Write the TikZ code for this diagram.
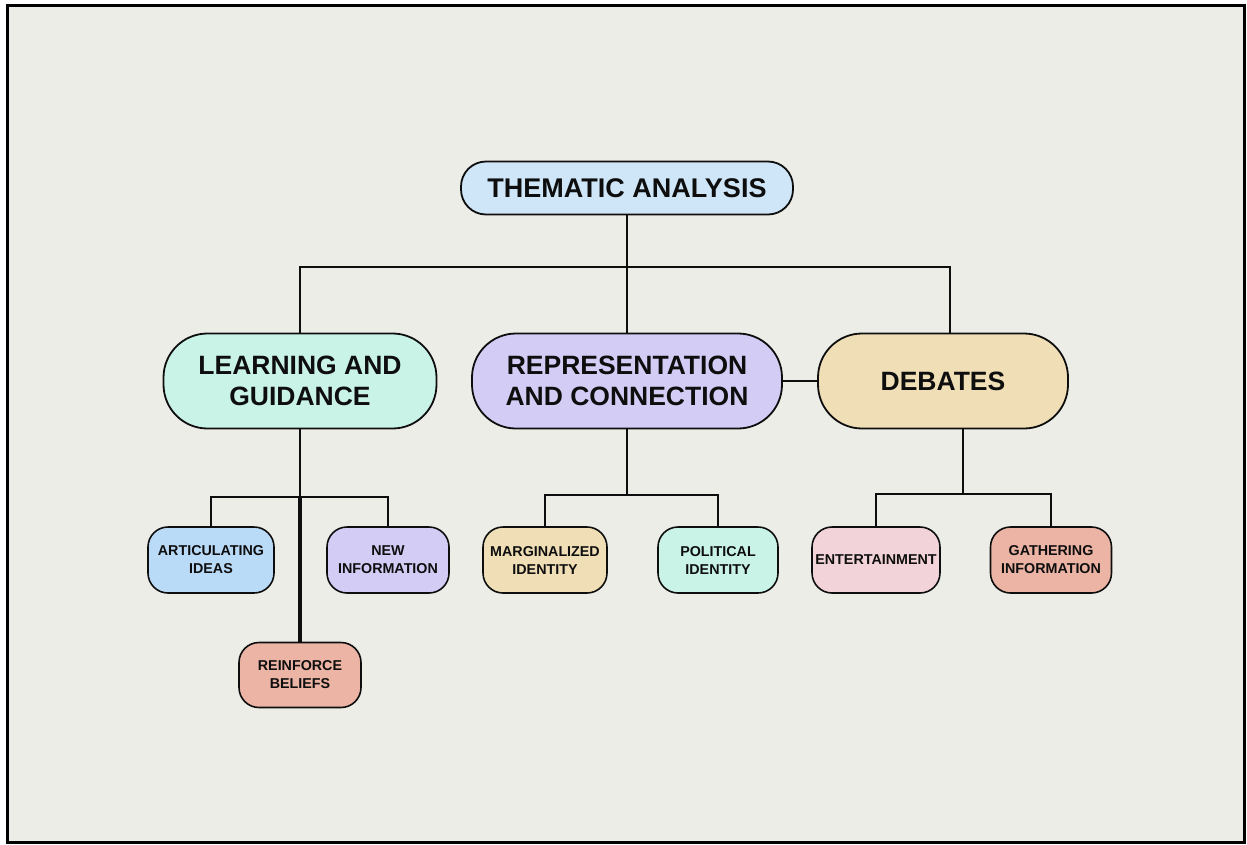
\documentclass[tikz,border=0pt]{standalone}
\usepackage{fontspec}
\setmainfont{Liberation Sans}
\usepackage{xcolor}
\usetikzlibrary{positioning, calc}
\definecolor{paperbg}{RGB}{237, 237, 232}
\definecolor{inkblack}{RGB}{14, 14, 14}
\definecolor{skyblue}{RGB}{206, 230, 248}
\definecolor{paleblue}{RGB}{186, 219, 248}
\definecolor{mintgreen}{RGB}{202, 243, 232}
\definecolor{lavender}{RGB}{211, 205, 246}
\definecolor{wheat}{RGB}{240, 222, 183}
\definecolor{salmon}{RGB}{236, 180, 164}
\definecolor{blush}{RGB}{242, 211, 217}

\begin{document}
\begin{tikzpicture}[
    x=1pt, y=-1pt,
    every node/.style={align=center, text=inkblack},
    rootbox/.style={draw=inkblack, line width=1.8pt, rounded corners=25pt, minimum height=53pt, minimum width=332pt, font=\fontsize{27}{32}\selectfont\bfseries},
    mainbox/.style={draw=inkblack, line width=1.8pt, rounded corners=44pt, minimum height=95pt, font=\fontsize{26.5}{31.5}\selectfont\bfseries},
    subbox/.style={draw=inkblack, line width=1.6pt, rounded corners=20pt, minimum height=66pt, minimum width=123pt, font=\fontsize{14.3}{18}\selectfont\bfseries},
    conn/.style={line width=1.8pt, color=inkblack}
]

% Page and frame
\fill[white] (0,0) rectangle (1247,844);
\draw[line width=3pt, fill=paperbg] (7,5) rectangle (1244,842);

% Root Node
\node[rootbox, fill=skyblue] (theme) at (627,188) {THEMATIC ANALYSIS};

% Main Theme Nodes
\node[mainbox, fill=mintgreen, minimum width=273pt] (learn) at (300,381) {LEARNING AND\\GUIDANCE};
\node[mainbox, fill=lavender, minimum width=310pt] (repr) at (627,381) {REPRESENTATION\\AND CONNECTION};
\node[mainbox, fill=wheat, minimum width=250pt] (debate) at (943,381) {DEBATES};

% Sub Theme Nodes
\node[subbox, fill=paleblue, minimum width=126pt] (artic) at (211,560) {ARTICULATING\\IDEAS};
\node[subbox, fill=lavender, minimum width=122pt] (newinfo) at (388,560) {NEW\\INFORMATION};
\node[subbox, fill=salmon, minimum width=122pt, minimum height=65pt] (reinf) at (300,675) {REINFORCE\\BELIEFS};
\node[subbox, fill=wheat, minimum width=124pt] (margin) at (545,560) {MARGINALIZED\\IDENTITY};
\node[subbox, fill=mintgreen, minimum width=120pt] (polit) at (718,560) {POLITICAL\\IDENTITY};
\node[subbox, fill=blush, minimum width=126pt] (entert) at (876,560) {ENTERTAINMENT};
\node[subbox, fill=salmon, minimum width=121pt] (gather) at (1051,560) {GATHERING\\INFORMATION};

% Junctions
\coordinate (topbus) at (627,267);
\coordinate (lbus) at (300,497);
\coordinate (rbus) at (627,495);
\coordinate (dbus) at (963,494);

% Root to main themes
\draw[conn] (theme.south) -- (repr.north);
\draw[conn] (learn.north) |- (topbus) -| ($(debate.north)+(7,0)$);
\draw[conn] (repr.east) -- (debate.west);

% Learning and guidance branch
\draw[conn] (learn.south) -- (lbus);
\draw[conn] (artic.north) |- (lbus) -| (newinfo.north);
\draw[conn, line width=4pt] (lbus) -- (reinf.north);

% Representation branch
\draw[conn] (repr.south) -- (rbus);
\draw[conn] (margin.north) |- (rbus) -| (polit.north);

% Debates branch
\draw[conn] ($(debate.south)+(20,0)$) -- (dbus);
\draw[conn] (entert.north) |- (dbus) -| (gather.north);

\end{tikzpicture}
\end{document}
